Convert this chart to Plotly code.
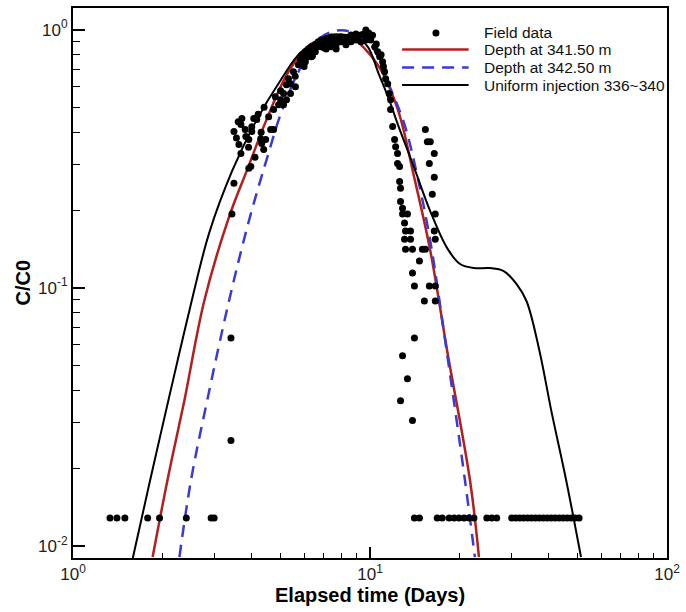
import plotly.graph_objects as go

# ---------------- data ----------------
field_x = [
    # detection-limit row
    1.332, 1.406, 1.495, 1.784, 1.956, 2.407, 2.918, 2.987,
    14.11, 14.67, 16.84, 17.51, 18.47, 19.19, 19.94, 20.73, 21.54, 22.39,
    24.74, 25.70, 26.71, 29.99, 30.92, 31.88, 32.88, 33.91, 34.97, 36.06,
    37.19, 38.35, 39.55, 40.77, 42.05, 43.37, 44.72, 46.12, 47.56, 49.04, 50.58,
    # isolated low points
    3.403, 3.403,
    # rising limb
    3.429, 3.483, 3.483, 3.675, 3.704, 3.619, 3.819, 3.908, 4.061, 4.156, 3.999,
    3.675, 3.969, 3.908, 4.286, 4.319, 4.454, 4.386, 4.629, 4.737, 4.558, 4.737,
    4.923, 4.999, 5.116, 5.235, 5.398, 5.609, 5.316, 5.524, 5.741, 5.830, 5.966,
    6.058, 6.200, 6.344, 6.543, 6.696, 6.851, 7.120, 7.399, 7.690, 7.990, 8.303,
    8.629, 8.967, 9.318, 9.683, 9.833, 10.06, 10.38, 10.62, 10.78, 11.03, 11.20,
    11.29, 11.47, 5.398, 5.116, 5.235,
    6.851, 7.120, 7.399, 7.690, 7.990, 8.303, 8.629, 8.967, 9.318, 9.683, 7.120,
    7.690, 6.543, 6.344, 6.058,
    5.9, 6.1, 6.3, 6.5, 6.7, 6.9, 7.0, 7.3, 7.5, 7.8, 8.1, 8.4, 8.8, 9.1, 9.5, 9.9,
    10.2, 10.5, 10.9, 11.1, 6.0, 6.4, 5.6, 5.0, 4.8, 4.4, 4.2, 4.0, 3.8, 3.55, 3.6,
    3.9, 4.1, 4.3,
    # falling limb column
    11.60, 11.73, 11.73, 11.92, 12.10, 12.20, 12.38, 12.38, 12.58, 12.58, 12.67,
    12.67, 12.87, 12.87, 13.37, 13.07, 13.17, 13.69, 13.07, 13.69, 13.17, 13.90,
    14.67, 13.90, 14.11, 15.24, 14.11, 15.01, 15.36,
    12.87, 13.37, 12.67, 13.90,
    # secondary cluster
    15.36, 15.60, 15.96, 16.46, 15.84, 16.46, 16.21, 16.59, 16.46, 16.59, 15.84,
    16.59, 16.59,
]
field_y = [
    0.0128, 0.0128, 0.0128, 0.0128, 0.0128, 0.0128, 0.0128, 0.0128,
    0.0128, 0.0128, 0.0128, 0.0128, 0.0128, 0.0128, 0.0128, 0.0128, 0.0128, 0.0128,
    0.0128, 0.0128, 0.0128, 0.0128, 0.0128, 0.0128, 0.0128, 0.0128, 0.0128, 0.0128,
    0.0128, 0.0128, 0.0128, 0.0128, 0.0128, 0.0128, 0.0128, 0.0128, 0.0128, 0.0128, 0.0128,
    0.0639, 0.0256,
    0.193, 0.254, 0.403, 0.429, 0.452, 0.359, 0.385, 0.375, 0.452, 0.448, 0.403,
    0.331, 0.295, 0.290, 0.378, 0.362, 0.375, 0.343, 0.410, 0.410, 0.460, 0.490,
    0.512, 0.535, 0.565, 0.612, 0.617, 0.601, 0.645, 0.687, 0.731, 0.764, 0.771,
    0.820, 0.842, 0.858, 0.873, 0.897, 0.912, 0.921, 0.937, 0.921, 0.937, 0.921,
    0.954, 0.962, 0.954, 0.997, 0.937, 0.912, 0.858, 0.820, 0.785, 0.750, 0.687,
    0.645, 0.617, 0.565, 0.512, 0.535,
    0.858, 0.873, 0.858, 0.873, 0.897, 0.873, 0.897, 0.912, 0.897, 0.912, 0.842,
    0.842, 0.820, 0.785, 0.750,
    0.80, 0.78, 0.82, 0.84, 0.86, 0.88, 0.85, 0.90, 0.89, 0.91, 0.92, 0.90, 0.93, 0.94,
    0.96, 0.97, 0.95, 0.88, 0.80, 0.72, 0.72, 0.79, 0.66, 0.58, 0.55, 0.50, 0.47, 0.42,
    0.41, 0.38, 0.44, 0.35, 0.32, 0.40,
    0.565, 0.535, 0.490, 0.421, 0.375, 0.352, 0.331, 0.303, 0.295, 0.258, 0.243,
    0.216, 0.203, 0.193, 0.193, 0.178, 0.166, 0.166, 0.154, 0.154, 0.141, 0.141,
    0.127, 0.114, 0.1015, 0.0888, 0.0639, 0.141, 0.141,
    0.0545, 0.0444, 0.0365, 0.0306,
    0.410, 0.368, 0.368, 0.331, 0.303, 0.268, 0.230, 0.193, 0.166, 0.154, 0.1015,
    0.1015, 0.0888,
]

d3415_x = [1.854, 2.080, 2.371, 2.766, 3.351, 3.908, 4.455, 5.317, 6.344, 7.990,
           8.630, 10.62, 12.38, 14.11, 15.96, 18.19, 21.71, 23.27]
d3415_y = [0.00904, 0.01794, 0.0365, 0.0888, 0.1878, 0.2972, 0.4401, 0.6868, 0.8808,
           0.9539, 0.9372, 0.7305, 0.4941, 0.2654, 0.1391, 0.0570, 0.01794, 0.00904]

d3425_x = [2.282, 2.496, 2.830, 3.351, 3.908, 4.455, 5.038, 5.741, 6.543, 7.630,
           8.630, 10.06, 11.73, 13.07, 14.44, 15.96, 17.77, 20.88, 22.55]
d3425_y = [0.00904, 0.01794, 0.0365, 0.0888, 0.1809, 0.3052, 0.4815, 0.6868, 0.8965,
           0.9885, 0.9797, 0.8727, 0.5902, 0.4286, 0.2699, 0.1515, 0.0663, 0.01794, 0.00904]

unif_x = [1.590, 1.812, 2.113, 2.464, 2.873, 3.429, 4.125, 5.038, 5.875, 7.398, 7.990,
          8.967, 9.833, 10.70, 11.60, 12.38, 14.11, 15.96, 18.19, 20.10, 22.39, 25.32,
          28.19, 31.16, 33.64, 37.19, 40.77, 45.76, 51.34]
unif_y = [0.00896, 0.01762, 0.03818, 0.0813, 0.1627, 0.2822, 0.4401, 0.6450, 0.8202,
          0.9539, 0.9565, 0.937, 0.858, 0.674, 0.535, 0.4325, 0.290, 0.1977, 0.1423,
          0.1235, 0.1191, 0.1191, 0.1160, 0.1033, 0.0888, 0.0570, 0.0334, 0.01794, 0.00904]

legend_labels = ["Field data", "Depth at 341.50 m", "Depth at 342.50 m",
                 "Uniform injection 336~340"]
x_tick_vals = [1, 10, 100]
x_tick_text = ["10<sup>0</sup>", "10<sup>1</sup>", "10<sup>2</sup>"]
y_tick_vals = [0.01, 0.1, 1]
y_tick_text = ["10<sup>-2</sup>", "10<sup>-1</sup>", "10<sup>0</sup>"]

RED = "#b41e1e"
BLUE = "#3a3ad4"
FONT = "Liberation Sans, Arial, sans-serif"

fig = go.Figure()
fig.add_trace(go.Scatter(x=d3415_x, y=d3415_y, mode="lines", line=dict(color=RED, width=2.5, shape="spline"),
                         name=legend_labels[1], showlegend=False))
fig.add_trace(go.Scatter(x=d3425_x, y=d3425_y, mode="lines",
                         line=dict(color=BLUE, width=2.5, dash="12px,8px", shape="spline"),
                         name=legend_labels[2], showlegend=False))
fig.add_trace(go.Scatter(x=unif_x, y=unif_y, mode="lines", line=dict(color="black", width=2, shape="spline"),
                         name=legend_labels[3], showlegend=False))
fig.add_trace(go.Scatter(x=field_x, y=field_y, mode="markers",
                         marker=dict(color="black", size=7), name=legend_labels[0], showlegend=False))

minor_x = [m * 10 ** d for d in range(0, 2) for m in range(2, 10)]
minor_y = [m * 10 ** d for d in (-3, -2, -1) for m in range(2, 10)]
minor_y = [v for v in minor_y if 0.0095 < v < 1.2]

fig.update_xaxes(type="log", range=[0, 2], tickmode="array", tickvals=x_tick_vals, ticktext=x_tick_text,
                 ticks="inside", ticklen=11, tickwidth=2, tickcolor="black",
                 showline=True, linecolor="black", linewidth=2, mirror=True,
                 showgrid=False, zeroline=False,
                 tickfont=dict(family=FONT, size=17, color="#222"),
                 minor=dict(tickvals=minor_x, ticks="inside", ticklen=5, tickwidth=1, tickcolor="black", showgrid=False))
fig.update_yaxes(type="log", range=[-2.0475, 0.0838], tickmode="array", tickvals=y_tick_vals, ticktext=y_tick_text,
                 ticks="inside", ticklen=12, tickwidth=2, tickcolor="black",
                 showline=True, linecolor="black", linewidth=2, mirror=True,
                 showgrid=False, zeroline=False,
                 tickfont=dict(family=FONT, size=17, color="#222"),
                 minor=dict(tickvals=minor_y, ticks="inside", ticklen=7, tickwidth=1, tickcolor="black", showgrid=False))

# custom legend (styling only)
shapes = [
    dict(type="circle", xref="paper", yref="paper", xsizemode="pixel", ysizemode="pixel",
         xanchor=0.611, yanchor=0.9547, x0=-3.5, x1=3.5, y0=-3.5, y1=3.5,
         fillcolor="black", line=dict(color="black", width=0)),
    dict(type="line", xref="paper", yref="paper", x0=0.554, x1=0.666, y0=0.9245, y1=0.9245,
         line=dict(color=RED, width=2.5)),
    dict(type="line", xref="paper", yref="paper", x0=0.554, x1=0.666, y0=0.8918, y1=0.8918,
         line=dict(color=BLUE, width=2.5, dash="12px,8px")),
    dict(type="line", xref="paper", yref="paper", x0=0.554, x1=0.666, y0=0.8600, y1=0.8600,
         line=dict(color="black", width=2)),
]
ann = []
for lab, yy in zip(legend_labels, [0.9547, 0.9245, 0.8918, 0.8600]):
    ann.append(dict(text=lab, xref="paper", yref="paper", x=0.688, y=yy, xanchor="left", yanchor="middle",
                    showarrow=False, font=dict(family=FONT, size=15.5, color="#111")))
ann.append(dict(text="<b>Elapsed time (Days)</b>", xref="paper", yref="paper", x=0.5, y=-0.0435,
                xanchor="center", yanchor="top", showarrow=False, font=dict(family=FONT, size=20, color="black")))
ann.append(dict(text="<b>C/C0</b>", xref="paper", yref="paper", x=-0.085, y=0.5, textangle=-90,
                xanchor="center", yanchor="middle", showarrow=False, font=dict(family=FONT, size=20, color="black")))

fig.update_layout(width=686, height=612, margin=dict(l=73, r=14, t=6, b=54),
                  paper_bgcolor="white", plot_bgcolor="white", shapes=shapes, annotations=ann,
                  showlegend=False)

fig.write_html("out.html", config={"displayModeBar": False},
               post_script="document.body.style.margin='0';")
